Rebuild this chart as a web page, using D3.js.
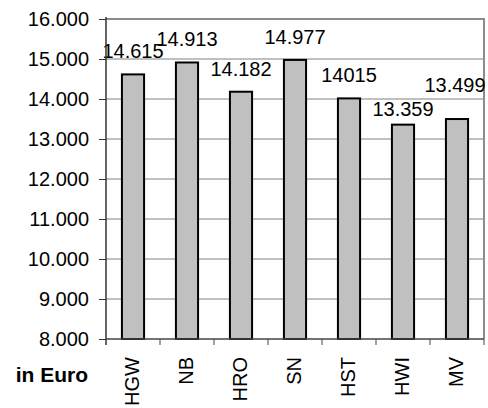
<!DOCTYPE html>
<html>
<head>
<meta charset="utf-8">
<script src="https://cdn.jsdelivr.net/npm/d3@7"></script>
<style>
  html, body { margin: 0; padding: 0; background: #fff; }
  svg { display: block; }
  text { font-family: "Liberation Sans", Arial, sans-serif; fill: #000; }
</style>
</head>
<body>
<svg id="chart"></svg>
<script>
// Regionen und Werte (in Euro)
const regions = ['HGW', 'NB', 'HRO', 'SN', 'HST', 'HWI', 'MV'];
const values = [14615, 14913, 14182, 14977, 14015, 13359, 13499];
const valueLabels = ['14.615', '14.913', '14.182', '14.977', '14015', '13.359', '13.499'];
const yTicks = [8000, 9000, 10000, 11000, 12000, 13000, 14000, 15000, 16000];
const yTickLabels = ['8.000', '9.000', '10.000', '11.000', '12.000', '13.000', '14.000', '15.000', '16.000'];

const width = 488, height = 408;
const margin = { top: 19, right: 4, bottom: 69, left: 106 };
const fontSize = '20px';

// Abstand der Wertbeschriftung über dem Balken (einige wurden im Original verschoben)
const labelGap = { HWI: 9, MV: 27 };

const svg = d3.select('#chart')
    .attr('width', width)
    .attr('height', height);

const x = d3.scaleBand()
    .domain(regions)
    .range([margin.left, width - margin.right])
    .paddingInner(0.59)
    .paddingOuter(0.295);

const xOuter = d3.scaleBand()
    .domain(regions)
    .range([margin.left, width - margin.right]);

const y = d3.scaleLinear()
    .domain([8000, 16000])
    .range([height - margin.bottom, margin.top]);

// Gitterlinien
svg.append('g')
    .selectAll('line')
    .data(yTicks.slice(1, -1))
    .enter()
    .append('line')
    .attr('x1', margin.left)
    .attr('x2', width - margin.right)
    .attr('y1', d => y(d))
    .attr('y2', d => y(d))
    .attr('stroke', '#808080')
    .attr('stroke-width', 1);

// Rahmen oben und rechts
svg.append('path')
    .attr('d', `M${margin.left},${y(16000)}H${width - margin.right}V${y(8000)}`)
    .attr('fill', 'none')
    .attr('stroke', '#8c8c8c')
    .attr('stroke-width', 2);

// Balken
svg.append('g')
    .selectAll('rect')
    .data(values)
    .enter()
    .append('rect')
    .attr('x', (d, i) => x(regions[i]))
    .attr('y', d => y(d))
    .attr('width', x.bandwidth())
    .attr('height', d => y(8000) - y(d))
    .attr('fill', '#c0c0c0')
    .attr('stroke', '#000')
    .attr('stroke-width', 2);

// Wertbeschriftungen
svg.append('g')
    .selectAll('text')
    .data(values)
    .enter()
    .append('text')
    .attr('x', (d, i) => Math.min(x(regions[i]) + x.bandwidth() / 2, width - 33))
    .attr('y', (d, i) => y(d) - (labelGap[regions[i]] || 16))
    .attr('text-anchor', 'middle')
    .style('font-size', fontSize)
    .text((d, i) => valueLabels[i]);

// Y-Achse
const yAxis = d3.axisLeft(y)
    .tickValues(yTicks)
    .tickFormat((d, i) => yTickLabels[i])
    .tickSize(7)
    .tickPadding(10);

const yG = svg.append('g')
    .attr('transform', `translate(${margin.left},0)`)
    .call(yAxis);
yG.select('.domain').remove();
yG.selectAll('.tick line').attr('stroke', '#333');
yG.selectAll('.tick text')
    .style('font-size', fontSize)
    .style('font-family', '"Liberation Sans", Arial, sans-serif')
    .attr('fill', '#000');

svg.append('line')
    .attr('x1', margin.left).attr('x2', margin.left)
    .attr('y1', y(16000) - 2).attr('y2', y(8000) + 6)
    .attr('stroke', '#333').attr('stroke-width', 1.5);

// X-Achse
svg.append('line')
    .attr('x1', margin.left).attr('x2', width - margin.right)
    .attr('y1', y(8000)).attr('y2', y(8000))
    .attr('stroke', '#444').attr('stroke-width', 1.5);

svg.append('g')
    .selectAll('line')
    .data(regions.slice(1).concat(['end']))
    .enter()
    .append('line')
    .attr('x1', (d, i) => margin.left + xOuter.step() * (i + 1))
    .attr('x2', (d, i) => margin.left + xOuter.step() * (i + 1))
    .attr('y1', y(8000))
    .attr('y2', y(8000) + 6)
    .attr('stroke', '#444');

svg.append('g')
    .selectAll('text')
    .data(regions)
    .enter()
    .append('text')
    .attr('transform', d => `translate(${x(d) + x.bandwidth() / 2 + 6},357) rotate(-90)`)
    .attr('text-anchor', 'end')
    .style('font-size', fontSize)
    .text(d => d);

svg.append('text')
    .attr('x', 88)
    .attr('y', 382)
    .attr('text-anchor', 'end')
    .style('font-size', '21px')
    .style('font-weight', 'bold')
    .text('in Euro');
</script>
</body>
</html>
